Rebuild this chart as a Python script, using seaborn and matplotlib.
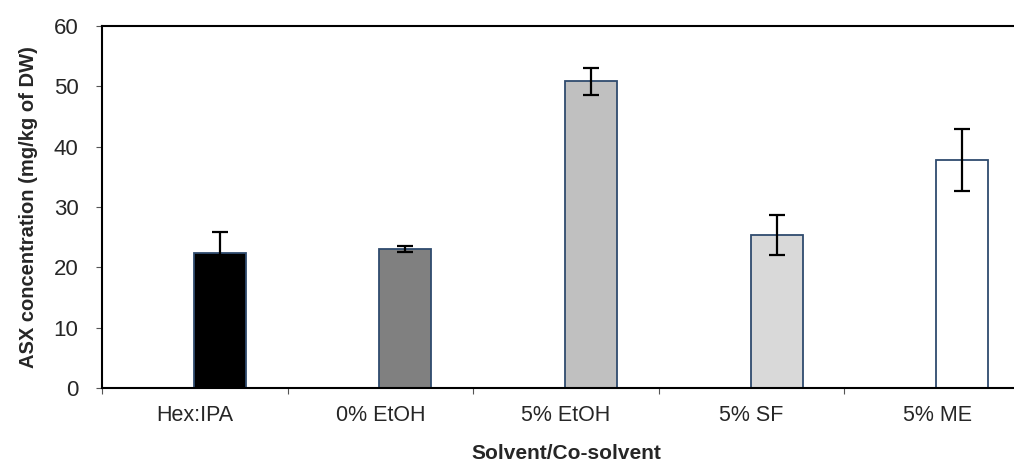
import numpy as np
import pandas as pd
import seaborn as sb
import matplotlib.pyplot as plt
from matplotlib.ticker import FixedLocator

solvents = ['Hex:IPA', '0% EtOH', '5% EtOH', '5% SF', '5% ME']
asx = [22.4, 23.1, 50.8, 25.4, 37.8]
asx_err = [3.5, 0.5, 2.3, 3.3, 5.1]
bar_colors = ['#000000', '#808080', '#c0c0c0', '#d9d9d9', '#ffffff']

df = pd.DataFrame({'solvent': solvents, 'asx': asx, 'err': asx_err})

sb.set_style('white')
plt.rcParams['font.family'] = ['Liberation Sans', 'DejaVu Sans']

fig = plt.figure(figsize=[10.14, 4.63], dpi=100)
ax = fig.add_axes([0.1006, 0.162, 0.915, 0.782])  # right edge runs past the figure

shift = 0.135  # bars sit right of the category centre
sb.barplot(data=df, x='solvent', y='asx', hue='solvent', palette=bar_colors,
           width=0.28, edgecolor='#2f4b6e', linewidth=1.3, legend=False, ax=ax)
ax.errorbar(np.arange(len(solvents)), df['asx'], yerr=df['err'], fmt='none',
            ecolor='black', elinewidth=1.6, capsize=6, capthick=1.6)

ax.set_xlim(-0.5 - shift, len(solvents) - 0.5 - shift)
ax.set_ylim(0, 60)
ax.set_yticks(range(0, 61, 10))

# labels at category centres, tick marks on category boundaries
ax.xaxis.set_major_locator(FixedLocator(np.arange(len(solvents)) - shift))
ax.set_xticklabels(solvents)
ax.xaxis.set_minor_locator(FixedLocator(np.arange(len(solvents) + 1) - 0.5 - shift))
ax.tick_params(axis='x', which='major', length=0, labelsize=15.5, pad=12)
ax.tick_params(axis='x', which='minor', bottom=True, length=4, width=0.8, color='#555555')
ax.tick_params(axis='y', left=True, length=4, width=0.8, color='#555555',
               labelsize=16, pad=13)

for s in ['left', 'bottom', 'top']:
    ax.spines[s].set_color('black')
    ax.spines[s].set_linewidth(1.5)
ax.spines['right'].set_visible(False)

ax.set_xlabel('Solvent/Co-solvent', fontsize=15, fontweight='bold', labelpad=13)
ax.set_ylabel('ASX concentration (mg/kg of DW)', fontsize=14.5, fontweight='bold', labelpad=11)

plt.savefig('out.png', dpi=100)
plt.close()
